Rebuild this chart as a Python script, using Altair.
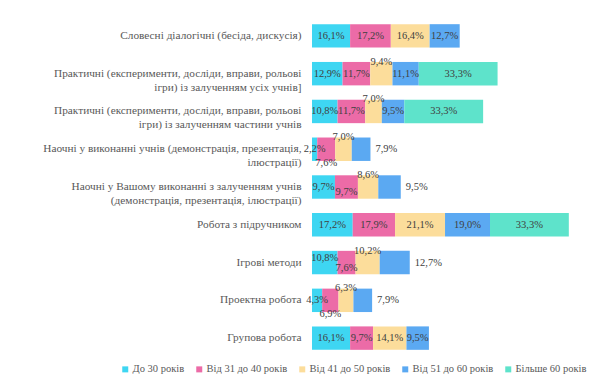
import altair as alt
import pandas as pd

categories = [
    "Словесні діалогічні (бесіда, дискусія)",
    "Практичні (експерименти, досліди, вправи, рольові\nігри) із залученням усіх учнів]",
    "Практичні (експерименти, досліди, вправи, рольові\nігри) із залученням частини учнів",
    "Наочні у виконанні учнів (демонстрація, презентація,\nілюстрації)",
    "Наочні у Вашому виконанні з залученням учнів\n(демонстрація, презентація, ілюстрації)",
    "Робота з підручником",
    "Ігрові методи",
    "Проектна робота",
    "Групова робота",
]
series = ["До 30 років", "Від 31 до 40 років", "Від 41 до 50 років",
          "Від 51 до 60 років", "Більше 60 років"]
s_to30 = [16.1, 12.9, 10.8, 2.2, 9.7, 17.2, 10.8, 4.3, 16.1]
s_31_40 = [17.2, 11.7, 11.7, 7.6, 9.7, 17.9, 7.6, 6.9, 9.7]
s_41_50 = [16.4, 9.4, 7.0, 7.0, 8.6, 21.1, 10.2, 6.3, 14.1]
s_51_60 = [12.7, 11.1, 9.5, 7.9, 9.5, 19.0, 12.7, 7.9, 9.5]
s_60plus = [0, 33.3, 33.3, 0, 0, 33.3, 0, 0, 0]
values = [s_to30, s_31_40, s_41_50, s_51_60, s_60plus]

colors = ["#3ED6F2", "#EC6BA7", "#FCDD9B", "#5BA9F2", "#5EE3CB"]

# label placement (style) keyed by (row, series)
placement = {
    (1, 2): "above", (2, 2): "above",
    (3, 1): "below", (3, 2): "above", (3, 3): "right",
    (4, 1): "low", (4, 2): "above", (4, 3): "right",
    (6, 0): "high", (6, 1): "low", (6, 2): "above", (6, 3): "right",
    (7, 1): "below", (7, 2): "above", (7, 3): "right",
}

rows = []
for si, s in enumerate(series):
    for ci, c in enumerate(categories):
        v = values[si][ci]
        if v > 0:
            rows.append({"cat": c, "series": s, "sidx": si, "v": v,
                         "pos": placement.get((ci, si), "center")})
df = pd.DataFrame(rows)

FONT = "'Liberation Serif', 'Times New Roman', 'DejaVu Serif', serif"
LBL = "#404040"

base = alt.Chart(df).transform_stack(
    stack="v", as_=["x0", "x1"], groupby=["cat"],
    sort=[alt.SortField("sidx", order="ascending")]
).transform_calculate(
    mid="(datum.x0 + datum.x1) / 2",
    txt="replace(format(datum.v, '.1f'), '.', ',') + '%'"
)

yenc = alt.Y("cat:N", sort=categories, title=None,
             scale=alt.Scale(paddingInner=0.38, paddingOuter=0.19),
             axis=alt.Axis(labelExpr="split(datum.label, '\\n')",
                           labelFont=FONT, labelFontSize=11.3,
                           labelColor="#595959", labelLineHeight=14,
                           labelPadding=11, ticks=False, domain=False,
                           labelLimit=400))
xscale = alt.Scale(domain=[0, 109], nice=False, zero=True)

bars = base.mark_bar().encode(
    x=alt.X("x0:Q", scale=xscale, axis=None),
    x2="x1:Q",
    y=yenc,
    color=alt.Color("series:N", sort=series,
                    scale=alt.Scale(domain=series, range=colors),
                    legend=alt.Legend(title=None, orient="none",
                                      direction="horizontal",
                                      legendX=-192, legendY=347,
                                      symbolType="square", symbolSize=36,
                                      symbolStrokeWidth=0,
                                      labelFont=FONT, labelFontSize=10.5,
                                      labelColor="#595959", labelOffset=2,
                                      columnPadding=9)),
)

def txt(pos, dx=0, dy=0, align="center", xfield="mid"):
    return base.transform_filter(f"datum.pos == '{pos}'").mark_text(
        font=FONT, fontSize=10.5, color=LBL, align=align, baseline="middle",
        dx=dx, dy=dy
    ).encode(x=alt.X(f"{xfield}:Q", scale=xscale), y=alt.Y("cat:N", sort=categories),
             text="txt:N")

layers = [
    bars,
    txt("center"),
    txt("above", dy=-12),
    txt("below", dy=14),
    txt("low", dy=5),
    txt("high", dy=-5),
    txt("right", dx=5, align="left", xfield="x1"),
]

chart = alt.layer(*layers).properties(
    width=258, height=340,
    autosize=alt.AutoSizeParams(type="none"),
    padding={"left": 304, "top": 9, "right": 22, "bottom": 20},
).configure_view(stroke=None)

chart.save("out.html", embed_options={"renderer": "svg", "actions": False})
